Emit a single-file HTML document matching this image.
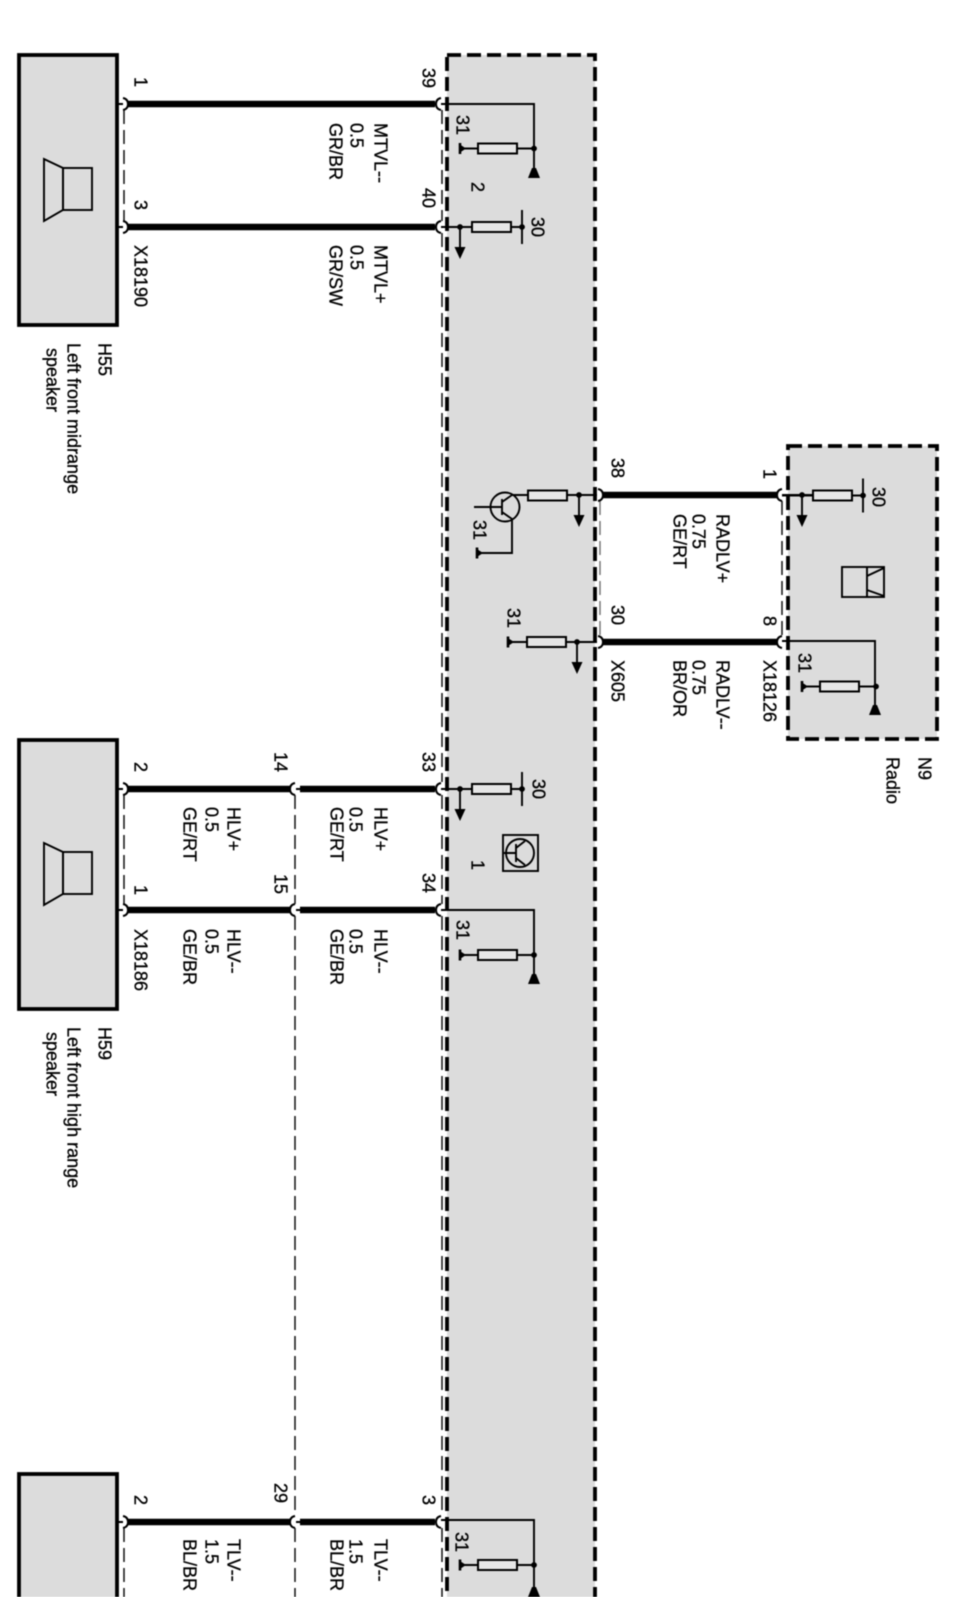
<!DOCTYPE html>
<html><head><meta charset="utf-8"><style>
html,body{margin:0;padding:0;background:#fff;width:960px;height:1597px;overflow:hidden}
svg{display:block;filter:blur(0.45px)}
text{font-family:"Liberation Sans",sans-serif;font-size:18px;fill:#000;stroke:#000;stroke-width:.3}
.b{stroke:#000;fill:none}
.w{stroke:#000;stroke-width:6.5;fill:none}
.t{stroke:#000;stroke-width:1.9;fill:none}
.d{stroke:#111;stroke-width:1.5;stroke-dasharray:14 6;fill:none}
.box{fill:#dcdcdc;stroke:#000;stroke-width:3.8}
.dbox{fill:#dcdcdc;stroke:#000;stroke-width:3.8;stroke-dasharray:14 6}
.br{stroke:#000;stroke-width:2;fill:none}
</style></head><body>
<svg xmlns="http://www.w3.org/2000/svg" width="960" height="1597" viewBox="0 0 960 1597">
<defs>
<g id="res"><rect x="0" y="-5" width="39" height="10" fill="#e6e6e6" stroke="#000" stroke-width="2"/></g>
<g id="node"><circle r="2.9" fill="#000"/></g>
<g id="arrow"><path d="M0 0V22" class="t"/><path d="M-5.5 20H5.5L0 32Z" fill="#000"/><circle r="2.9" fill="#000"/></g>
<g id="gnd"><path d="M0 -5.5V5.5" stroke="#000" stroke-width="2.6"/><path d="M0 -4L6 0L0 4Z" fill="#000"/></g>
<g id="tri"><path d="M-6 0H6L2 -10H-2Z" fill="#000"/></g>
<g id="r31"><path d="M-18 0H56" class="t"/><use href="#res"/><use href="#gnd" x="-18"/><use href="#node" x="56"/></g>
<g id="r30"><path d="M-31 0H50" class="t"/><use href="#res"/><path d="M50 -17V17" class="t"/><use href="#node" x="50"/></g>
<g id="spk"><path d="M44 0L63 9V51L44 62Z" class="t" fill="none"/><rect x="63" y="9" width="29" height="42" class="t"/></g>
<g id="cR"><path d="M-5 -6Q0 -5 0 0Q0 5 -5 6" class="br"/></g>
<g id="cL"><path d="M5 -6Q0 -5 0 0Q0 5 5 6" class="br"/></g>
</defs>

<!-- large module -->
<rect class="dbox" x="447" y="55" width="148" height="1600"/>
<!-- radio -->
<rect class="dbox" x="788" y="446" width="149" height="293"/>
<!-- speakers -->
<rect class="box" x="19" y="55" width="98" height="270"/>
<rect class="box" x="19" y="740" width="98" height="269"/>
<rect class="box" x="19" y="1474" width="98" height="140"/>

<!-- thin dashed -->
<path class="d" d="M124 110V221M124 795V904M124 1528V1597M295 795V904M295 916V1516M295 1528V1597M442 110V221M442 233V782M442 795V904M442 916V1516M442 1528V1597"/>
<path class="d" d="M600 501V636" style="stroke:#777"/>
<path class="d" d="M782 501V636"/>

<!-- thick wires -->
<path class="w" d="M128 104H435M128 227H435M128 789H291M300 789H435M128 910H291M300 910H435M128 1522H291M300 1522H435M603 495H778M603 642H778"/>
<path class="t" d="M118 104H123M118 227H123M118 789H123M118 910H123M118 1522H123M296 789H301M296 910H301M296 1522H301"/>

<!-- connector ends -->
<use href="#cR" x="128" y="104"/><use href="#cR" x="128" y="227"/><use href="#cR" x="128" y="789"/><use href="#cR" x="128" y="910"/><use href="#cR" x="128" y="1522"/>
<use href="#cL" x="290" y="789"/><use href="#cL" x="290" y="910"/><use href="#cL" x="290" y="1522"/>
<use href="#cL" x="436" y="104"/><use href="#cL" x="436" y="227"/><use href="#cL" x="436" y="789"/><use href="#cL" x="436" y="910"/><use href="#cL" x="436" y="1522"/>
<use href="#cR" x="603" y="495"/><use href="#cR" x="603" y="642"/>
<use href="#cL" x="777" y="495"/><use href="#cL" x="777" y="642"/>

<!-- speaker icons -->
<use href="#spk" y="159"/><use href="#spk" y="843"/>

<!-- module internals -->
<path class="t" d="M441 104H534V170"/><use href="#tri" x="534" y="178"/>
<use href="#r31" x="478" y="148.5"/>
<use href="#r30" x="472" y="227"/><use href="#arrow" x="460" y="227"/>
<path class="t" d="M441 227H472M441 789H472"/>

<use href="#r30" x="472" y="789"/><use href="#arrow" x="460" y="789"/>
<rect x="503" y="835" width="35" height="36" class="t"/>
<circle cx="520" cy="853" r="14" class="t"/>
<path class="t" d="M504 853H516M516 844V862M516 848L525 841M516 858L525 865"/>

<path class="t" d="M441 910H534V975"/><use href="#tri" x="534" y="984"/>
<use href="#r31" x="478" y="955"/>
<path class="t" d="M441 1520H534V1588"/><use href="#tri" x="534" y="1597"/>
<use href="#r31" x="478" y="1565"/>

<!-- transistor 38 -->
<path class="t" d="M568 495H597M528 495H512"/>
<use href="#res" x="528" y="495.5"/><use href="#arrow" x="579" y="495"/>
<circle cx="505" cy="507" r="14.5" class="t"/>
<path class="t" d="M474 507H502M502 499V515M502 502L512 495M502 512L512 519V553H477"/>
<use href="#gnd" x="477" y="553"/>

<!-- X605 / 31 -->
<path class="t" d="M508 642H597"/><use href="#res" x="527" y="642"/><use href="#gnd" x="508" y="642"/>
<use href="#arrow" x="577" y="642"/>

<!-- radio internals -->
<use href="#r30" x="813" y="495.5"/><path class="t" d="M782 495H813"/><use href="#arrow" x="802" y="495"/>
<rect x="842" y="567" width="42" height="30" class="t"/>
<path class="t" d="M867 567V597M867 576L884 568M867 590L884 596"/>
<path class="t" d="M782 641H875V708"/><use href="#tri" x="875" y="715"/>
<use href="#r31" x="820" y="686.5"/>

<!-- labels -->
<g transform="translate(1.5,0)">
<text transform="translate(133,77) rotate(90)">1</text>
<text transform="translate(133,200) rotate(90)">3</text>
<text transform="translate(133,245) rotate(90)">X18190</text>
<text transform="translate(97,343) rotate(90)">H55</text>
<text transform="translate(66,343) rotate(90)">Left front midrange</text>
<text transform="translate(45,348) rotate(90)">speaker</text>

<text transform="translate(421,68) rotate(90)">39</text>
<text transform="translate(421,188) rotate(90)">40</text>
<text transform="translate(455,115) rotate(90)">31</text>
<text transform="translate(470,182) rotate(90)">2</text>
<text transform="translate(530,217) rotate(90)">30</text>
<text transform="translate(373,123) rotate(90)">MTVL--</text>
<text transform="translate(349,123) rotate(90)">0.5</text>
<text transform="translate(328,123) rotate(90)">GR/BR</text>
<text transform="translate(373,245) rotate(90)">MTVL+</text>
<text transform="translate(349,245) rotate(90)">0.5</text>
<text transform="translate(328,245) rotate(90)">GR/SW</text>

<text transform="translate(610,458) rotate(90)">38</text>
<text transform="translate(762,469) rotate(90)">1</text>
<text transform="translate(610,605) rotate(90)">30</text>
<text transform="translate(762,616) rotate(90)">8</text>
<text transform="translate(610,660) rotate(90)">X605</text>
<text transform="translate(762,660) rotate(90)">X18126</text>
<text transform="translate(715,514) rotate(90)">RADLV+</text>
<text transform="translate(691,514) rotate(90)">0.75</text>
<text transform="translate(672,514) rotate(90)">GE/RT</text>
<text transform="translate(715,660) rotate(90)">RADLV--</text>
<text transform="translate(691,660) rotate(90)">0.75</text>
<text transform="translate(672,660) rotate(90)">BR/OR</text>
<text transform="translate(917,757) rotate(90)">N9</text>
<text transform="translate(885,757) rotate(90)">Radio</text>
<text transform="translate(871,487) rotate(90)">30</text>
<text transform="translate(797,653) rotate(90)">31</text>
<text transform="translate(472,520) rotate(90)">31</text>
<text transform="translate(506,608) rotate(90)">31</text>

<text transform="translate(133,762) rotate(90)">2</text>
<text transform="translate(133,885) rotate(90)">1</text>
<text transform="translate(133,929) rotate(90)">X18186</text>
<text transform="translate(273,752) rotate(90)">14</text>
<text transform="translate(273,874) rotate(90)">15</text>
<text transform="translate(226,807) rotate(90)">HLV+</text>
<text transform="translate(204,807) rotate(90)">0.5</text>
<text transform="translate(182,807) rotate(90)">GE/RT</text>
<text transform="translate(226,929) rotate(90)">HLV--</text>
<text transform="translate(204,929) rotate(90)">0.5</text>
<text transform="translate(182,929) rotate(90)">GE/BR</text>
<text transform="translate(97,1027) rotate(90)">H59</text>
<text transform="translate(66,1027) rotate(90)">Left front high range</text>
<text transform="translate(45,1032) rotate(90)">speaker</text>

<text transform="translate(421,752) rotate(90)">33</text>
<text transform="translate(421,873) rotate(90)">34</text>
<text transform="translate(373,807) rotate(90)">HLV+</text>
<text transform="translate(348,807) rotate(90)">0.5</text>
<text transform="translate(329,807) rotate(90)">GE/RT</text>
<text transform="translate(373,929) rotate(90)">HLV--</text>
<text transform="translate(348,929) rotate(90)">0.5</text>
<text transform="translate(329,929) rotate(90)">GE/BR</text>
<text transform="translate(531,779) rotate(90)">30</text>
<text transform="translate(470,860) rotate(90)">1</text>
<text transform="translate(455,920) rotate(90)">31</text>

<text transform="translate(133,1495) rotate(90)">2</text>
<text transform="translate(273,1483) rotate(90)">29</text>
<text transform="translate(421,1495) rotate(90)">3</text>
<text transform="translate(226,1539) rotate(90)">TLV--</text>
<text transform="translate(204,1539) rotate(90)">1.5</text>
<text transform="translate(182,1539) rotate(90)">BL/BR</text>
<text transform="translate(373,1539) rotate(90)">TLV--</text>
<text transform="translate(348,1539) rotate(90)">1.5</text>
<text transform="translate(329,1539) rotate(90)">BL/BR</text>
<text transform="translate(454,1532) rotate(90)">31</text>
</g>
</svg>
</body></html>
